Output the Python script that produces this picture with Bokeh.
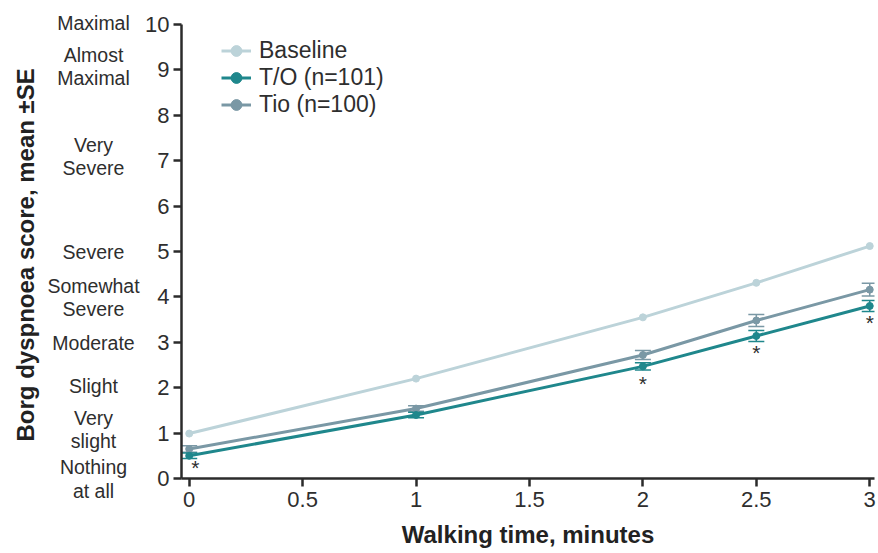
from bokeh.plotting import figure
from bokeh.models import (ColumnDataSource, Whisker, TeeHead, FixedTicker,
                          Legend, LegendItem, Range1d)
from bokeh.layouts import row
from bokeh.core.properties import value
from bokeh.embed import file_html
from bokeh.resources import INLINE
import math

# ---------------- data ----------------
time_min = [0, 1, 2, 2.5, 3]
baseline = [0.99, 2.20, 3.55, 4.31, 5.12]
to_mean = [0.50, 1.40, 2.47, 3.14, 3.80]
to_se = [0.06, 0.06, 0.08, 0.12, 0.12]
tio_mean = [0.65, 1.54, 2.72, 3.48, 4.16]
tio_se = [0.07, 0.06, 0.10, 0.13, 0.14]
significant = [True, False, True, True, True]

x_ticks = [0, 0.5, 1, 1.5, 2, 2.5, 3]
x_tick_labels = ["0", "0.5", "1", "1.5", "2", "2.5", "3"]
y_ticks = [0, 1, 2, 3, 4, 5, 6, 7, 8, 9, 10]

borg_scores = [10, 9, 7, 5, 4, 3, 2, 1, 0]
borg_labels = ["Maximal", "Almost\nMaximal", "Very\nSevere", "Severe",
               "Somewhat\nSevere", "Moderate", "Slight", "Very\nslight",
               "Nothing\nat all"]

series_names = ["Baseline", "T/O (n=101)", "Tio (n=100)"]
x_title = "Walking time, minutes"
y_title = "Borg dyspnoea score, mean  \u00b1SE"

# ---------------- layout / style ----------------
FONT = "Liberation Sans"
TXT = "#2e2e2e"
AX = "#2b2b2b"
C_BASE = "#bcd3d9"
C_TO = "#1f878c"
C_TIO = "#7a98a5"

CANVAS_H = 553
FRAME_TOP = 24
FRAME_H = 454
LEFT_W = 142          # strip holding the Borg descriptors and y title
MAIN_BORDER_L = 37
MAIN_W = 734
Y0, Y1 = 0, 10
PX_PER_UNIT = FRAME_H / (Y1 - Y0)

desc_center_x = 93
ytitle_x = 25
desc_shift = [-1.5, -3.5, -4, 0, 0.5, 0.5, -1.5, -3.5, 0.5]   # px, positive = down
LINE_GAP = 23.5

# ---------------- left strip (descriptors + y title) ----------------
left = figure(width=LEFT_W, height=CANVAS_H, output_backend="svg", toolbar_location=None,
              x_axis_type=None, y_axis_type=None,
              x_range=Range1d(0, LEFT_W),
              y_range=Range1d(Y0 - (CANVAS_H - FRAME_TOP - FRAME_H) / PX_PER_UNIT,
                              Y1 + FRAME_TOP / PX_PER_UNIT),
              min_border_left=0, min_border_right=0, min_border_top=0, min_border_bottom=0)
left.frame_align = False
left.outline_line_color = None
left.grid.grid_line_color = None

dx, dy, dyo, dt = [], [], [], []
for score, lab, sh in zip(borg_scores, borg_labels, desc_shift):
    lines = lab.split("\n")
    n = len(lines)
    for i, ln in enumerate(lines):
        dx.append(desc_center_x)
        dy.append(score)
        dyo.append(sh + (i - (n - 1) / 2) * LINE_GAP)
        dt.append(ln)
left.text(x="x", y="y", text="t", y_offset="yo",
          source=ColumnDataSource(dict(x=dx, y=dy, yo=dyo, t=dt)),
          text_align="center", text_baseline="middle",
          text_font=value(FONT), text_font_size="19.5px", text_color=TXT)
left.text(x=[ytitle_x], y=[(Y0 + Y1) / 2], text=[y_title], angle=math.pi / 2,
          text_align="center", text_baseline="middle",
          text_font=value(FONT), text_font_size="24px", text_font_style="bold",
          text_color="#222222")

# ---------------- main plot ----------------
p = figure(width=MAIN_W, height=CANVAS_H, output_backend="svg", toolbar_location=None,
           x_range=Range1d(-0.034, 3.021), y_range=Range1d(Y0, Y1),
           min_border_left=MAIN_BORDER_L, min_border_right=2, min_border_top=FRAME_TOP,
           min_border_bottom=CANVAS_H - FRAME_TOP - FRAME_H)
p.frame_align = False
p.outline_line_color = None
p.xgrid.grid_line_color = None
p.ygrid.grid_line_color = None

for ax in (p.xaxis[0], p.yaxis[0]):
    ax.axis_line_color = AX
    ax.axis_line_width = 2.5
    ax.major_tick_line_color = AX
    ax.major_tick_line_width = 2.5
    ax.major_tick_out = 8
    ax.major_tick_in = 0
    ax.minor_tick_line_color = None
    ax.major_label_text_font = FONT
    ax.major_label_text_font_size = "22px"
    ax.major_label_text_color = TXT

xa = p.xaxis[0]
xa.ticker = FixedTicker(ticks=x_ticks)
xa.major_label_overrides = {t: s for t, s in zip(x_ticks, x_tick_labels)}
xa.major_label_standoff = 5
xa.axis_label = x_title
xa.axis_label_standoff = 11
xa.axis_label_text_font = FONT
xa.axis_label_text_font_size = "24px"
xa.axis_label_text_font_style = "bold"
xa.axis_label_text_color = "#222222"

ya = p.yaxis[0]
ya.ticker = FixedTicker(ticks=y_ticks)
ya.major_label_standoff = 4

src = ColumnDataSource(dict(
    x=time_min, base=baseline, to=to_mean, tio=tio_mean,
    to_lo=[m - s for m, s in zip(to_mean, to_se)],
    to_hi=[m + s for m, s in zip(to_mean, to_se)],
    tio_lo=[m - s for m, s in zip(tio_mean, tio_se)],
    tio_hi=[m + s for m, s in zip(tio_mean, tio_se)],
))

r_base_l = p.line("x", "base", source=src, line_color=C_BASE, line_width=3)
r_base_m = p.scatter("x", "base", source=src, size=7, fill_color=C_BASE, line_color=C_BASE)

p.add_layout(Whisker(source=src, base="x", upper="tio_hi", lower="tio_lo",
                     line_color=C_TIO, line_width=1.5,
                     upper_head=TeeHead(size=16, line_color=C_TIO, line_width=1.5),
                     lower_head=TeeHead(size=16, line_color=C_TIO, line_width=1.5)))
p.add_layout(Whisker(source=src, base="x", upper="to_hi", lower="to_lo",
                     line_color=C_TO, line_width=1.5,
                     upper_head=TeeHead(size=16, line_color=C_TO, line_width=1.5),
                     lower_head=TeeHead(size=16, line_color=C_TO, line_width=1.5)))

r_tio_l = p.line("x", "tio", source=src, line_color=C_TIO, line_width=3)
r_tio_m = p.scatter("x", "tio", source=src, size=7, fill_color=C_TIO, line_color=C_TIO)
r_to_l = p.line("x", "to", source=src, line_color=C_TO, line_width=3)
r_to_m = p.scatter("x", "to", source=src, size=7, fill_color=C_TO, line_color=C_TO)

# significance asterisks under T/O
sx = [x for x, s in zip(time_min, significant) if s]
sy = [y for y, s in zip(to_mean, significant) if s]
ast_src = ColumnDataSource(dict(
    x=sx, y=sy, t=["*"] * len(sx),
    xo=[6 if x == 0 else 0 for x in sx],
    yo=[12 if x == 0 else 17 for x in sx],
))
p.text("x", "y", text="t", source=ast_src, x_offset="xo", y_offset="yo",
       text_align="center", text_baseline="middle",
       text_font=value(FONT), text_font_size="21px", text_color=TXT)

legend = Legend(items=[
    LegendItem(label=series_names[0], renderers=[r_base_l, r_base_m]),
    LegendItem(label=series_names[1], renderers=[r_to_l, r_to_m]),
    LegendItem(label=series_names[2], renderers=[r_tio_l, r_tio_m]),
], location=(40, 360), padding=0, spacing=0, margin=0,
    label_height=27, glyph_height=27, glyph_width=30, label_standoff=8,
    border_line_color=None, background_fill_alpha=0,
    label_text_font=FONT, label_text_font_size="23px", label_text_color=TXT)
p.add_layout(legend)

layout = row(left, p)
open("out.html", "w").write(file_html(layout, INLINE))
